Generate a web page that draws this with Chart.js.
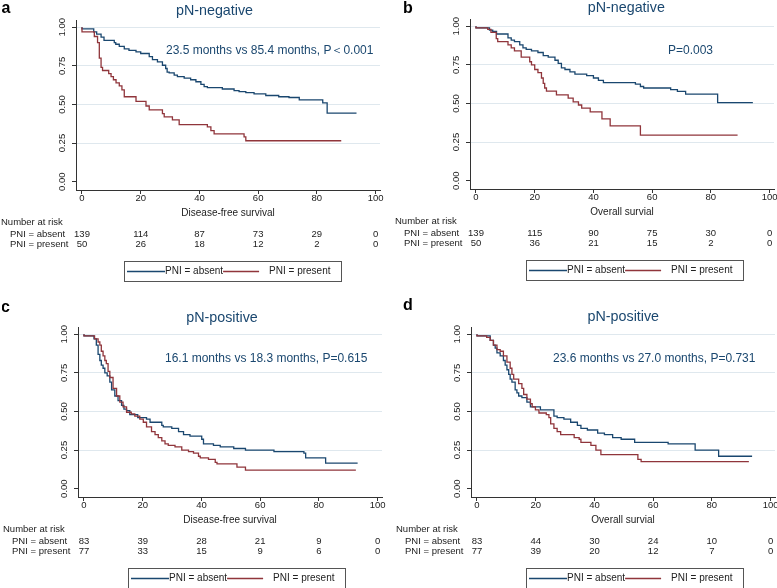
<!DOCTYPE html>
<html>
<head>
<meta charset="utf-8">
<script src="https://cdn.jsdelivr.net/npm/chart.js@4.4.1/dist/chart.umd.min.js"></script>
<style>
html, body { margin: 0; padding: 0; background: #fff; }
body { width: 777px; height: 588px; position: relative; overflow: hidden; }
canvas { position: absolute; }
</style>
</head>
<body>
<canvas id="pa" width="388" height="292" style="left:0px;top:-10px"></canvas>
<canvas id="pb" width="388" height="292" style="left:394px;top:-11px"></canvas>
<canvas id="pc" width="388" height="292" style="left:2px;top:297px"></canvas>
<canvas id="pd" width="388" height="292" style="left:395px;top:297px"></canvas>
<script>
// axes
const timeTicks = [0, 20, 40, 60, 80, 100];
const survTicks = [0, 0.25, 0.5, 0.75, 1];
const groups = ['PNI = absent', 'PNI = present'];

// a: pN-negative, disease-free survival
const aAbsentT = [0, 4, 5, 6.5, 7.5, 11, 11.5, 12.7, 14.4, 16, 18.4, 20, 22.9, 24, 25.7, 27.4, 28.5, 29, 29.7, 31.4, 32.5, 34.8, 37, 38.8, 40.5, 41.6, 42.7, 47.8, 51.8, 53.5, 55.8, 58.6, 62.6, 67, 70.5, 74, 82, 83.5, 85, 93.5];
const aAbsentS = [1, 0.99, 0.97, 0.955, 0.936, 0.915, 0.9, 0.89, 0.876, 0.86, 0.85, 0.84, 0.83, 0.81, 0.79, 0.776, 0.754, 0.733, 0.71, 0.705, 0.69, 0.68, 0.67, 0.66, 0.647, 0.63, 0.615, 0.609, 0.6, 0.59, 0.583, 0.577, 0.568, 0.558, 0.55, 0.545, 0.53, 0.51, 0.444, 0.444];
const aPresentT = [0, 4.2, 5.3, 5.9, 6.5, 7, 9.1, 9.9, 10.7, 11.6, 12.7, 13.6, 14.4, 18.4, 21.8, 22.9, 27.4, 28, 30.8, 33.1, 42.7, 43.9, 45, 55.2, 55.8, 56.3, 88.3];
const aPresentS = [1, 0.97, 0.94, 0.9, 0.8, 0.74, 0.72, 0.7, 0.68, 0.66, 0.64, 0.62, 0.595, 0.55, 0.52, 0.49, 0.465, 0.44, 0.42, 0.4, 0.37, 0.355, 0.33, 0.31, 0.29, 0.265, 0.265];
const aRiskAbsent = [139, 114, 87, 73, 29, 0];
const aRiskPresent = [50, 26, 18, 12, 2, 0];

// b: pN-negative, overall survival
const bAbsentT = [0, 4.6, 5.7, 7, 10.9, 12, 13.1, 14.9, 16, 17.1, 18.9, 21.1, 22.9, 24.6, 26.9, 28, 29.1, 30.3, 32, 33.7, 37.7, 40, 41.7, 43.4, 54.3, 56, 57.1, 66.3, 68.6, 71.4, 82.3, 89.7, 94.3];
const bAbsentS = [1, 0.99, 0.975, 0.966, 0.95, 0.925, 0.91, 0.9, 0.88, 0.86, 0.85, 0.84, 0.83, 0.81, 0.8, 0.78, 0.76, 0.73, 0.72, 0.705, 0.69, 0.68, 0.665, 0.65, 0.635, 0.625, 0.61, 0.6, 0.59, 0.578, 0.56, 0.505, 0.505];
const bPresentT = [0, 4, 5.1, 6.9, 7.4, 10.9, 12, 13.1, 15.4, 18.3, 18.9, 20, 21.1, 22.3, 22.9, 23.4, 24, 27.4, 31.4, 33.1, 34.9, 36, 38.9, 42.9, 45.7, 56, 77.7, 89.1];
const bPresentS = [1, 0.99, 0.98, 0.96, 0.92, 0.9, 0.88, 0.86, 0.84, 0.8, 0.77, 0.75, 0.72, 0.7, 0.665, 0.63, 0.6, 0.58, 0.555, 0.535, 0.51, 0.49, 0.47, 0.445, 0.4, 0.355, 0.295, 0.295];
const bRiskAbsent = [139, 115, 90, 75, 30, 0];
const bRiskPresent = [50, 36, 21, 15, 2, 0];

// c: pN-positive, disease-free survival
const cAbsentT = [0, 3.4, 4.2, 4.8, 5.4, 5.9, 6.5, 7.1, 7.9, 8.8, 9.4, 10.5, 11.6, 12.8, 13.6, 14.5, 15.6, 18.3, 21.3, 22.5, 26.5, 27, 29.9, 32.2, 33.9, 36.1, 40.1, 40.7, 44.1, 46.4, 51, 55, 64.7, 74.9, 75.5, 82.3, 85.7, 93.2];
const cAbsentS = [1, 0.99, 0.97, 0.93, 0.87, 0.83, 0.8, 0.78, 0.75, 0.73, 0.69, 0.64, 0.6, 0.57, 0.54, 0.515, 0.505, 0.48, 0.46, 0.45, 0.43, 0.41, 0.4, 0.39, 0.37, 0.35, 0.34, 0.32, 0.29, 0.28, 0.27, 0.26, 0.25, 0.24, 0.23, 0.2, 0.165, 0.165];
const cPresentT = [0, 3.6, 4.8, 5.4, 5.9, 6.5, 7.1, 7.6, 8.2, 8.8, 9.9, 11.1, 12.2, 13.3, 14.5, 16.1, 17.3, 19, 20.2, 21.3, 23, 24.2, 25.3, 26.5, 27.6, 28.7, 31, 33.3, 35.6, 37.3, 39, 39.6, 42.4, 44.7, 45.3, 52.1, 55, 62.4, 92.6];
const cPresentS = [1, 0.99, 0.97, 0.95, 0.93, 0.89, 0.86, 0.83, 0.81, 0.76, 0.72, 0.65, 0.6, 0.56, 0.53, 0.495, 0.485, 0.47, 0.45, 0.43, 0.4, 0.37, 0.35, 0.33, 0.31, 0.29, 0.28, 0.27, 0.25, 0.24, 0.23, 0.21, 0.2, 0.19, 0.17, 0.16, 0.14, 0.12, 0.12];
const cRiskAbsent = [83, 39, 28, 21, 9, 0];
const cRiskPresent = [77, 33, 15, 9, 6, 0];

// d: pN-positive, overall survival
const dAbsentT = [0, 4.5, 5.6, 6.2, 6.8, 7.9, 9, 9.6, 10.2, 10.8, 11.3, 11.9, 13, 13.6, 14.2, 15.3, 17, 18.2, 21.6, 26.2, 27.3, 29.6, 31.9, 34.2, 35.4, 37.6, 41.1, 43.4, 46.2, 49.1, 53.7, 65.1, 74.3, 82.3, 85.7, 93.7];
const dAbsentS = [1, 0.99, 0.96, 0.93, 0.91, 0.88, 0.86, 0.83, 0.8, 0.77, 0.74, 0.71, 0.69, 0.64, 0.62, 0.6, 0.59, 0.56, 0.53, 0.51, 0.47, 0.46, 0.45, 0.43, 0.41, 0.39, 0.38, 0.36, 0.35, 0.33, 0.32, 0.3, 0.29, 0.25, 0.21, 0.21];
const dPresentT = [0, 3.3, 4.5, 5.6, 6.8, 7.9, 9, 10.2, 11.3, 11.9, 12.5, 14.2, 15.3, 15.9, 17, 18.2, 18.8, 19.9, 21.1, 23.6, 24.5, 25.1, 26.2, 27.3, 28.5, 33.1, 34.8, 35.4, 38.8, 40.5, 42.2, 54.8, 55.9, 62.8, 92.6];
const dPresentS = [1, 0.99, 0.98, 0.96, 0.93, 0.9, 0.89, 0.86, 0.82, 0.78, 0.74, 0.71, 0.68, 0.65, 0.61, 0.58, 0.55, 0.53, 0.51, 0.49, 0.48, 0.46, 0.42, 0.39, 0.37, 0.35, 0.33, 0.32, 0.3, 0.28, 0.25, 0.22, 0.19, 0.175, 0.175];
const dRiskAbsent = [83, 44, 30, 24, 10, 0];
const dRiskPresent = [77, 39, 20, 12, 7, 0];

const FONT = '"Liberation Sans", Arial, sans-serif';
const NAVY = '#1a476f';
const MAROON = '#90353b';
const INK = '#222';
const GRID = '#dfe8ee';

// text and layout that is specific to each panel
const panels = [
    { id: 'pa', letter: 'a', letterX: 1.5, letterY: 23.3, title: 'pN-negative', titleX: 214.5, titleY: 24.7,
      note: '23.5 months vs 85.4 months, P\uFF1C0.001', noteX: 166, noteY: 61, xTitle: 'Disease-free survival', legendX: 124,
      absT: aAbsentT, absS: aAbsentS, preT: aPresentT, preS: aPresentS, risk: [aRiskAbsent, aRiskPresent] },
    { id: 'pb', letter: 'b', letterX: 9, letterY: 24.3, title: 'pN-negative', titleX: 232.3, titleY: 22.5,
      note: 'P=0.003', noteX: 274, noteY: 61.7, xTitle: 'Overall survial', legendX: 132,
      absT: bAbsentT, absS: bAbsentS, preT: bPresentT, preS: bPresentS, risk: [bRiskAbsent, bRiskPresent] },
    { id: 'pc', letter: 'c', letterX: -1, letterY: 15, title: 'pN-positive', titleX: 220, titleY: 25,
      note: '16.1 months vs 18.3 months, P=0.615', noteX: 163, noteY: 62, xTitle: 'Disease-free survival', legendX: 126,
      absT: cAbsentT, absS: cAbsentS, preT: cPresentT, preS: cPresentS, risk: [cRiskAbsent, cRiskPresent] },
    { id: 'pd', letter: 'd', letterX: 8, letterY: 13, title: 'pN-positive', titleX: 228.3, titleY: 23.5,
      note: '23.6 months vs 27.0 months, P=0.731', noteX: 158, noteY: 62, xTitle: 'Overall survial', legendX: 131,
      absT: dAbsentT, absS: dAbsentS, preT: dPresentT, preS: dPresentS, risk: [dRiskAbsent, dRiskPresent] }
];

function pts(t, s) {
    return t.map((x, i) => ({ x: x, y: s[i] }));
}

// titles, tick labels, risk table and legend box (Stata style)
const decor = {
    id: 'decor',
    afterDraw(chart, args, o) {
        const c = chart.ctx, xs = chart.scales.x, ys = chart.scales.y, a = chart.chartArea;
        c.save();
        c.fillStyle = INK;
        c.textAlign = 'center';
        c.textBaseline = 'middle';
        c.font = '9.5px ' + FONT;
        ys.ticks.forEach(t => {
            c.save();
            c.translate(a.left - 13.3, ys.getPixelForValue(t.value));
            c.rotate(-Math.PI / 2);
            c.fillText(t.value.toFixed(2), 0, 0);
            c.restore();
        });
        xs.ticks.forEach(t => c.fillText(String(t.value), xs.getPixelForValue(t.value), a.bottom + 8.5));

        c.font = '10px ' + FONT;
        c.fillText(o.xTitle, (a.left + a.right) / 2, a.bottom + 23);

        // number at risk
        c.font = '9.5px ' + FONT;
        c.textAlign = 'left';
        c.fillText('Number at risk', 1, a.bottom + 32.7);
        o.risk.forEach((row, i) => {
            const y = a.bottom + 44.3 + i * 10;
            c.textAlign = 'left';
            c.fillText(groups[i], 10, y);
            c.textAlign = 'center';
            row.forEach((n, j) => c.fillText(String(n), xs.getPixelForValue(timeTicks[j]), y));
        });

        // legend
        const lx = o.legendX, ly = a.bottom + 71;
        c.strokeStyle = '#555';
        c.lineWidth = 1;
        c.strokeRect(lx + 0.5, ly + 0.5, 217, 20);
        const my = ly + 10.5;
        c.font = '10px ' + FONT;
        c.textAlign = 'left';
        c.lineWidth = 1.3;
        c.strokeStyle = NAVY;
        c.beginPath(); c.moveTo(lx + 3, my); c.lineTo(lx + 41, my); c.stroke();
        c.fillText(groups[0], lx + 41, my);
        const rx = lx + 41 + c.measureText(groups[0]).width;
        c.strokeStyle = MAROON;
        c.beginPath(); c.moveTo(rx, my); c.lineTo(rx + 36, my); c.stroke();
        c.fillText(groups[1], rx + 46, my);

        // panel title, note and letter
        c.fillStyle = NAVY;
        c.textBaseline = 'alphabetic';
        c.textAlign = 'center';
        c.font = '14.3px ' + FONT;
        c.fillText(o.title, o.titleX, o.titleY);
        c.textAlign = 'left';
        c.textBaseline = 'middle';
        c.font = '12px ' + FONT;
        c.fillText(o.note, o.noteX, o.noteY);
        c.fillStyle = '#000';
        c.textBaseline = 'alphabetic';
        c.font = 'bold 16px ' + FONT;
        c.fillText(o.letter, o.letterX, o.letterY);
        c.restore();
    }
};

panels.forEach(p => {
    new Chart(document.getElementById(p.id), {
        type: 'line',
        data: {
            datasets: [
                { label: groups[0], data: pts(p.absT, p.absS), borderColor: NAVY, order: 2 },
                { label: groups[1], data: pts(p.preT, p.preS), borderColor: MAROON, order: 1 }
            ]
        },
        options: {
            responsive: false,
            animation: false,
            devicePixelRatio: 1,
            events: [],
            layout: { padding: { top: 30, right: 8, left: 0, bottom: 0 } },
            elements: {
                line: { stepped: 'after', borderWidth: 1.3, fill: false, tension: 0 },
                point: { radius: 0 }
            },
            scales: {
                x: {
                    type: 'linear', min: -2.04, max: 101.5,
                    afterBuildTicks: s => { s.ticks = timeTicks.map(v => ({ value: v })); },
                    afterFit: s => { s.height = 92; },
                    ticks: { display: false },
                    grid: { drawOnChartArea: false, drawTicks: true, tickLength: 4, tickColor: '#333' },
                    border: { display: true, color: '#333', width: 1 }
                },
                y: {
                    type: 'linear', min: -0.054, max: 1.047,
                    afterBuildTicks: s => { s.ticks = survTicks.map(v => ({ value: v })); },
                    afterFit: s => { s.width = 76; },
                    ticks: { display: false },
                    grid: {
                        color: ctx => (ctx.tick && ctx.tick.value === 0) ? 'rgba(0,0,0,0)' : GRID,
                        drawTicks: true, tickLength: 4, tickColor: '#333'
                    },
                    border: { display: true, color: '#333', width: 1 }
                }
            },
            plugins: {
                legend: { display: false },
                tooltip: { enabled: false },
                title: { display: false },
                decor: p
            }
        },
        plugins: [decor]
    });
});
</script>
</body>
</html>
